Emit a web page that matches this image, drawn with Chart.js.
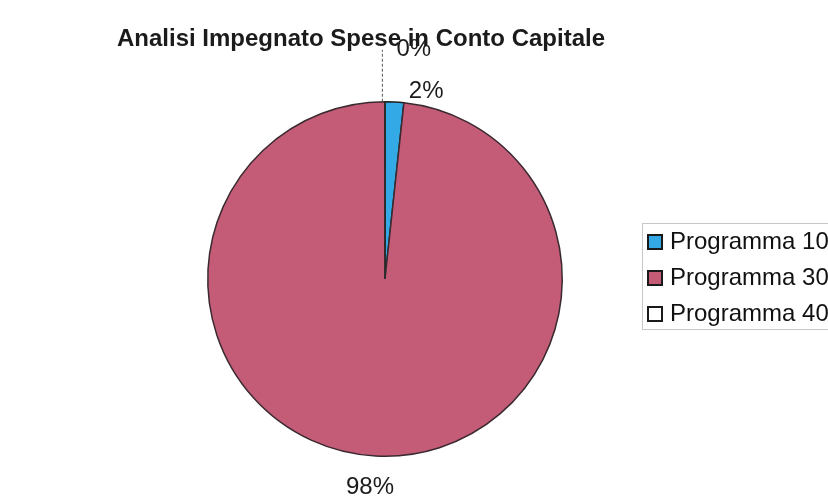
<!DOCTYPE html>
<html>
<head>
<meta charset="utf-8">
<script src="https://cdn.jsdelivr.net/npm/chart.js"></script>
<style>
  html, body { margin: 0; padding: 0; background: #fff; }
  #wrap { width: 828px; height: 499px; }
</style>
</head>
<body>
<div id="wrap"><canvas id="pie-chartcanvas-1" width="828" height="499"></canvas></div>
<script>
var categories = ["Programma 10", "Programma 30", "Programma 40"];
var impegnato = [1.7, 98.28, 0.02];
var titleText = "Analisi Impegnato Spese in Conto Capitale";

var sliceColors = ["#33AAE6", "#C45C78", "#FFFFFF"];
var sliceBorders = ["#1e1e1e", "#3a2a30", "#2a2a2a"];

// label placement: distance outside the arc + small nudge
var labelStyle = [
    { dist: 14, dx: 31, dy: 3, leader: false },
    { dist: 31, dx: -4, dy: 0, leader: false },
    { dist: 52, dx: 29, dy: 0, leader: true, lx: -3 }
];

var extras = {
    id: "extras",
    afterDraw: function(chart) {
        var ctx = chart.ctx;
        var meta = chart.getDatasetMeta(0);
        var total = 0;
        for (var i = 0; i < impegnato.length; i++) total += impegnato[i];

        ctx.save();

        // title
        ctx.font = "bold 24px Arial, 'Liberation Sans', sans-serif";
        ctx.fillStyle = "#1b1b1b";
        ctx.textAlign = "center";
        ctx.textBaseline = "middle";
        ctx.fillText(titleText, 361, 39);

        // percentage labels
        ctx.font = "24px Arial, 'Liberation Sans', sans-serif";
        meta.data.forEach(function(arc, i) {
            var p = arc.getProps(["x", "y", "startAngle", "endAngle", "outerRadius"], true);
            var mid = (p.startAngle + p.endAngle) / 2;
            var s = labelStyle[i];
            var ax = p.x + Math.cos(mid) * (p.outerRadius + s.dist);
            var ay = p.y + Math.sin(mid) * (p.outerRadius + s.dist);
            if (s.leader) {
                var ex = p.x + Math.cos(mid) * p.outerRadius;
                var ey = p.y + Math.sin(mid) * p.outerRadius;
                ctx.strokeStyle = "#555";
                ctx.lineWidth = 1;
                ctx.setLineDash([3, 2]);
                ctx.beginPath();
                ctx.moveTo(ex + s.lx + 0.5, ey);
                ctx.lineTo(ax + s.lx + 0.5, ay);
                ctx.stroke();
                ctx.setLineDash([]);
            }
            var pct = Math.round(impegnato[i] / total * 100) + "%";
            ctx.fillStyle = "#1b1b1b";
            ctx.fillText(pct, ax + s.dx, ay + s.dy);
        });

        // legend
        var lx = 642, ly = 223, rowH = 36;
        ctx.strokeStyle = "#c8c8c8";
        ctx.lineWidth = 1;
        ctx.strokeRect(lx + 0.5, ly + 0.5, 200, 106);
        ctx.textAlign = "left";
        for (var k = 0; k < categories.length; k++) {
            var cy = ly + 19 + k * rowH;
            ctx.fillStyle = sliceColors[k];
            ctx.fillRect(648, cy - 7, 14, 14);
            ctx.strokeStyle = "#1a1a1a";
            ctx.lineWidth = 2;
            ctx.strokeRect(648, cy - 7, 14, 14);
            ctx.fillStyle = "#111";
            ctx.fillText(categories[k], 670, cy);
        }

        ctx.restore();
    }
};

var ctx1 = document.getElementById("pie-chartcanvas-1");

var data1 = {
    labels: categories,
    datasets: [
        {
            label: "Impegnato",
            data: impegnato,
            backgroundColor: sliceColors,
            borderColor: sliceBorders,
            borderWidth: 1.5
        }
    ]
};

var options1 = {
    responsive: false,
    animation: false,
    devicePixelRatio: 1,
    layout: {
        padding: { left: 185, right: 243, top: 101, bottom: 42 }
    },
    plugins: {
        title: { display: false },
        legend: { display: false },
        tooltip: { enabled: false }
    }
};

var chart1 = new Chart(ctx1, {
    type: "pie",
    data: data1,
    options: options1,
    plugins: [extras]
});
</script>
</body>
</html>
